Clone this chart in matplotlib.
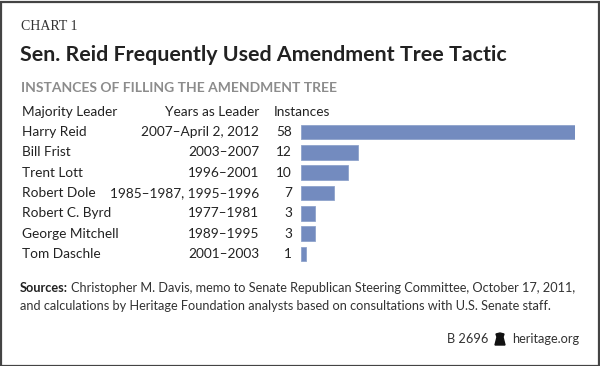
import matplotlib
matplotlib.use('Agg')
import matplotlib.pyplot as plt
from matplotlib.transforms import blended_transform_factory
from matplotlib.patches import Rectangle, Polygon

leaders = ['Harry Reid', 'Bill Frist', 'Trent Lott', 'Robert Dole',
           'Robert C. Byrd', 'George Mitchell', 'Tom Daschle']
years = ['2007\u2013April 2, 2012', '2003\u20132007', '1996\u20132001',
         '1985\u20131987, 1995\u20131996', '1977\u20131981', '1989\u20131995',
         '2001\u20132003']
instances = [58, 12, 10, 7, 3, 3, 1]

W, H = 600, 366
plt.rcParams['font.family'] = ['Lato', 'DejaVu Sans']
fig = plt.figure(figsize=(W / 100, H / 100), dpi=100)

def px(x, y):
    return x / W, 1 - y / H

# bar axes: rows centred at 132px, 20.33px apart
row0, step = 132, 20.33
top = row0 - step / 2
bottom = row0 + step * (len(leaders) - 0.5)
ax = fig.add_axes([301 / W, 1 - bottom / H, 274 / W, (bottom - top) / H])
ax.barh(range(len(instances)), instances, height=0.71, color='#738bbf',
        edgecolor='#8fa3cc', linewidth=0.6)
ax.set_xlim(0, 58)
ax.set_ylim(len(leaders) - 0.5, -0.5)
ax.axis('off')

tr = blended_transform_factory(fig.transFigure, ax.transData)
txt = dict(fontsize=9.8, color='#222222', va='center', transform=tr)
fig.text(22 / W, -0.97, 'Majority Leader', ha='left', **txt)
fig.text(259 / W, -0.97, 'Years as Leader', ha='right', **txt)
fig.text(274 / W, -0.97, 'Instances', ha='left', **txt)
for i, (name, yr, n) in enumerate(zip(leaders, years, instances)):
    fig.text(22 / W, i, name, ha='left', **txt)
    fig.text(259 / W, i, yr, ha='right', **txt)
    fig.text(292 / W, i, str(n), ha='right', **txt)

# headings
fig.text(*px(21, 27), 'CHART 1', fontsize=10, color='#333333',
         family='Liberation Serif', va='center')
fig.text(*px(20, 55), 'Sen. Reid Frequently Used Amendment Tree Tactic',
         fontsize=15.4, fontweight='bold', color='#222222', va='center')
fig.text(*px(21, 88), 'INSTANCES OF FILLING THE AMENDMENT TREE',
         fontsize=10, fontweight='bold', color='#8c8c8c', va='center')

# sources
src = fig.text(*px(20, 288), 'Sources:', fontsize=9.2, fontweight='bold',
               color='#222222', va='center')
fig.canvas.draw()
bb = src.get_window_extent()
fig.text((bb.x1 + 3) / W, 1 - 288 / H,
         'Christopher M. Davis, memo to Senate Republican Steering Committee, October 17, 2011,',
         fontsize=9.2, color='#333333', va='center')
fig.text(*px(20, 306),
         'and calculations by Heritage Foundation analysts based on consultations with U.S. Senate staff.',
         fontsize=9.2, color='#333333', va='center')

# footer
fig.text(*px(579, 339), 'heritage.org', fontsize=9.2, color='#333333',
         ha='right', va='center')
fig.text(*px(488, 339), 'B 2696', fontsize=9.2, color='#333333',
         ha='right', va='center')
bell = [px(495, 345), px(497, 337), px(496, 334), px(500, 333),
        px(504, 334), px(503, 337), px(505, 345)]
fig.patches.append(Polygon(bell, closed=True, color='#111111',
                           transform=fig.transFigure, figure=fig))

# frame
fig.patches.append(Rectangle((0.5 / W, 0.5 / H), 1 - 2 / W, 1 - 2 / H,
                             fill=False, edgecolor='#444444', linewidth=1.6,
                             transform=fig.transFigure, figure=fig))

fig.savefig('out.png', dpi=100)
